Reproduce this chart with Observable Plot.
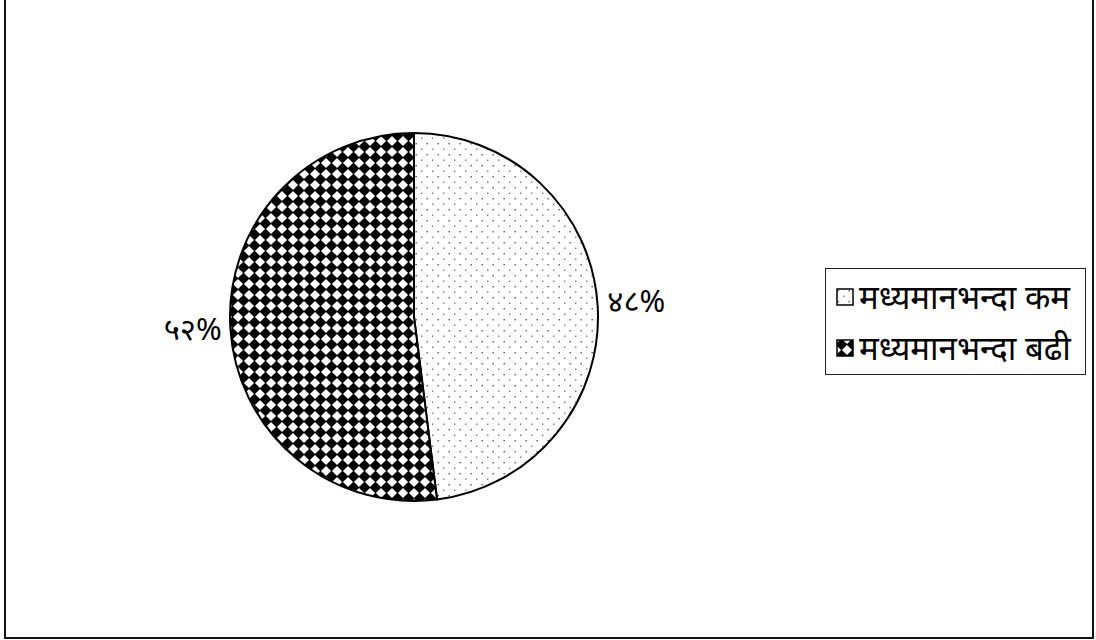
<!DOCTYPE html>
<html>
<head>
<meta charset="utf-8">
<script src="https://cdn.jsdelivr.net/npm/d3@7"></script>
<script src="https://cdn.jsdelivr.net/npm/@observablehq/plot@0.6"></script>
<style>
  html, body { margin: 0; padding: 0; background: #fff; }
  #wrap { position: relative; width: 1096px; height: 640px; overflow: hidden; font-family: "Noto Sans", "Noto Sans Devanagari", sans-serif; }
  #frame { position: absolute; left: 4px; top: -4px; width: 1090px; height: 643px; border: 2px solid #111; box-sizing: border-box; pointer-events: none; }
  #legend { position: absolute; left: 825px; top: 268px; width: 261px; height: 107px; border: 1.5px solid #222; box-sizing: border-box; background: #fff; }
  .item { position: absolute; left: 10px; height: 30px; display: flex; align-items: center; font-size: 33px; line-height: 30px; color: #000; white-space: nowrap; }
  .item svg { margin-right: 5px; }
</style>
</head>
<body>
<div id="wrap">
  <div id="chart"></div>
  <div id="legend"></div>
  <div id="frame"></div>
</div>
<script>
const categories = ["मध्यमानभन्दा कम", "मध्यमानभन्दा बढी"];
const values = [48, 52];
const labels = ["४८%", "५२%"];

const patternIds = ["dots", "checker"];

function addPatterns(defs, prefix) {
  const p1 = defs.append("pattern").attr("id", prefix + "dots")
    .attr("patternUnits", "userSpaceOnUse").attr("width", 11).attr("height", 11);
  p1.append("rect").attr("width", 11).attr("height", 11).attr("fill", "#fff");
  p1.append("rect").attr("x", 1.5).attr("y", 2).attr("width", 1.4).attr("height", 1.4).attr("fill", "#555");
  p1.append("rect").attr("x", 7).attr("y", 7.5).attr("width", 1.4).attr("height", 1.4).attr("fill", "#777");
  const p2 = defs.append("pattern").attr("id", prefix + "checker")
    .attr("patternUnits", "userSpaceOnUse").attr("width", 11).attr("height", 11);
  p2.append("rect").attr("width", 11).attr("height", 11).attr("fill", "#fff");
  p2.append("path").attr("class", "pat").attr("d", "M5.5,-0.4 L11.4,5.5 L5.5,11.4 L-0.4,5.5 Z").attr("fill", "#000");
  p2.append("circle").attr("cx", 5.5).attr("cy", 5.5).attr("r", 3.7).attr("fill", "#000");
}

const pie = d3.pie().sort(null).value(d => d)(values);
const slices = pie.map((p, i) => ({
  category: categories[i],
  label: labels[i],
  start: p.startAngle,
  end: p.endAngle,
  mid: (p.startAngle + p.endAngle) / 2,
  pattern: patternIds[i]
}));
const labelR = 1.05;
const labelData = slices.map(s => ({
  ...s,
  lx: labelR * Math.sin(s.mid),
  ly: labelR * Math.cos(s.mid)
}));

function pieMark(index, scales, values, dimensions, context) {
  const g = d3.create("svg:g");
  addPatterns(g.append("defs"), "p-");
  const cx = scales.x(0), cy = scales.y(0);
  const r = scales.x(1) - scales.x(0);
  const arc = d3.arc().innerRadius(0).outerRadius(r);
  g.attr("transform", `translate(${cx},${cy})`);
  g.selectAll("path.slice").data(slices).join("path")
    .attr("class", "slice")
    .attr("d", d => arc({startAngle: d.start, endAngle: d.end}))
    .attr("fill", d => `url(#p-${d.pattern})`)
    .attr("stroke", "#000")
    .attr("stroke-width", 2)
    .attr("stroke-linejoin", "round");
  return g.node();
}

const chart = Plot.plot({
  width: 1096,
  height: 640,
  marginLeft: 230,
  marginRight: 498,
  marginTop: 133,
  marginBottom: 139,
  x: { domain: [-1, 1], axis: null },
  y: { domain: [-1, 1], axis: null },
  style: { fontFamily: "'Noto Sans', 'Noto Sans Devanagari', sans-serif", background: "#fff", overflow: "visible" },
  marks: [
    pieMark,
    Plot.text(labelData.filter(d => d.lx >= 0), {
      x: "lx", y: "ly", text: "label", textAnchor: "start",
      fontSize: 31, fill: "#000", dy: -3
    }),
    Plot.text(labelData.filter(d => d.lx < 0), {
      x: "lx", y: "ly", text: "label", textAnchor: "end",
      fontSize: 31, fill: "#000", dy: 0
    })
  ]
});
document.getElementById("chart").appendChild(chart);

const legend = d3.select("#legend");
slices.forEach((s, i) => {
  const item = legend.append("div").attr("class", "item").style("top", (i === 0 ? 13 : 64) + "px");
  const svg = item.append("svg").attr("width", 18).attr("height", 18);
  addPatterns(svg.append("defs"), "lg" + i + "-");
  svg.append("rect").attr("x", 1).attr("y", 1).attr("width", 16).attr("height", 16)
    .attr("fill", `url(#lg${i}-${s.pattern})`).attr("stroke", "#000").attr("stroke-width", 1.5);
  item.append("span").text(s.category);
});
</script>
</body>
</html>
